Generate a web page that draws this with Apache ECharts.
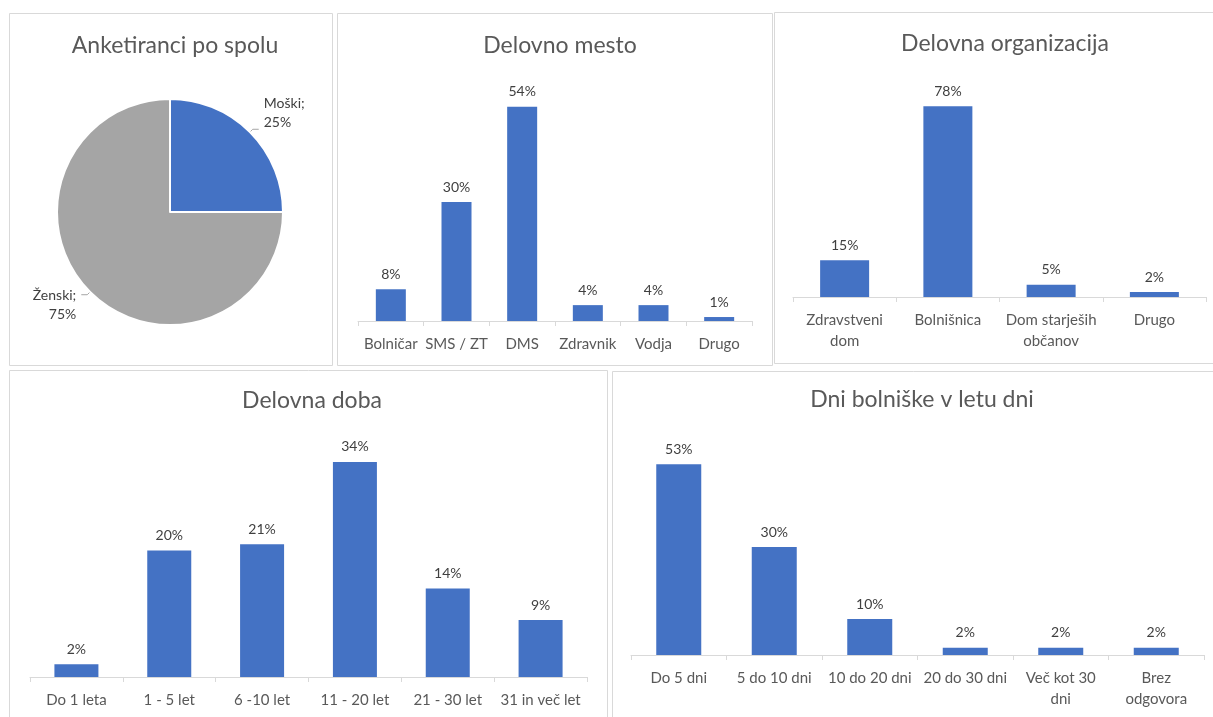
<!DOCTYPE html>
<html><head><meta charset="utf-8">
<script src="https://cdn.jsdelivr.net/npm/echarts@6/dist/echarts.min.js"></script>
<style>html,body{margin:0;padding:0;background:#fff}#c{width:1213px;height:717px}</style>
</head><body><div id="c"></div>
<script>
// ---- data ----
const spolNames = ['Moški', 'Ženski'];
const spolValues = [25, 75];

const mestoCats = ['Bolničar', 'SMS / ZT', 'DMS', 'Zdravnik', 'Vodja', 'Drugo'];
const mestoValues = [8, 30, 54, 4, 4, 1];

const orgCats = ['Zdravstveni\ndom', 'Bolnišnica', 'Dom starješih\nobčanov', 'Drugo'];
const orgValues = [15, 78, 5, 2];

const dobaCats = ['Do 1 leta', '1 - 5 let', '6 -10 let', '11 - 20 let', '21 - 30 let', '31 in več let'];
const dobaValues = [2, 20, 21, 34, 14, 9];

const bolCats = ['Do 5 dni', '5 do 10 dni', '10 do 20 dni', '20 do 30 dni', 'Več kot 30\ndni', 'Brez\nodgovora'];
const bolValues = [53, 30, 10, 2, 2, 2];

const titles = ['Anketiranci po spolu', 'Delovno mesto', 'Delovna organizacija', 'Delovna doba', 'Dni bolniške v letu dni'];

// ---- styling ----
const FONT = 'Lato, "Open Sans", sans-serif';
const BLUE = '#4472C4', GRAY = '#A5A5A5';
const grids = [
  {left: 358, top: 83, width: 394, height: 238},
  {left: 793, top: 77, width: 413, height: 220},
  {left: 30, top: 424, width: 557, height: 253},
  {left: 631, top: 439, width: 573, height: 216}
];
const maxes = [60, 90, 40, 60];
const catSets = [mestoCats, orgCats, dobaCats, bolCats];
const valSets = [mestoValues, orgValues, dobaValues, bolValues];
const barW = [30, 49, 44, 45];

const titlePos = [[170, 29], [555, 29], [1000, 27], [307, 384], [917, 383]];
const panels = [[9, 13, 323, 352], [337, 13, 435, 352], [774, 12, 445, 351], [9, 370, 598, 360], [612, 371, 610, 360]];

const option = {
  backgroundColor: '#fff',
  animation: false,
  textStyle: {fontFamily: FONT},
  title: titles.map((t, i) => ({
    text: t, left: titlePos[i][0], top: titlePos[i][1], textAlign: 'center',
    textStyle: {fontFamily: FONT, fontSize: 23, fontWeight: 'normal', color: '#595959'}
  })),
  graphic: panels.map(p => ({
    type: 'rect', shape: {x: p[0] + 0.5, y: p[1] + 0.5, width: p[2], height: p[3]},
    style: {fill: 'none', stroke: '#D9D9D9', lineWidth: 1}, silent: true, z: -1
  })),
  grid: grids,
  xAxis: catSets.map((c, i) => ({
    type: 'category', gridIndex: i, data: c,
    axisLine: {lineStyle: {color: '#D9D9D9'}},
    axisTick: {show: true, length: 5, lineStyle: {color: '#D9D9D9'}},
    axisLabel: {color: '#595959', fontFamily: FONT, fontSize: 15, interval: 0, margin: 13, lineHeight: 21}
  })),
  yAxis: maxes.map((m, i) => ({
    type: 'value', gridIndex: i, min: 0, max: m, show: false, splitLine: {show: false}
  })),
  series: [
    {
      type: 'pie', center: [170, 212], radius: 113, startAngle: 90, clockwise: true,
      data: spolNames.map((n, i) => ({name: n, value: spolValues[i], itemStyle: {color: i === 0 ? BLUE : GRAY}})),
      itemStyle: {borderColor: '#fff', borderWidth: 2},
      label: {show: true, position: 'outside', formatter: '{b};\n{c}%', color: '#404040', fontFamily: FONT, fontSize: 14, lineHeight: 19},
      labelLine: {show: true, length: 4, length2: 6, lineStyle: {color: '#A6A6A6'}},
      labelLayout: function (p) { return p.dataIndex === 0 ? {dy: -16} : {dy: 10}; }
    }
  ].concat(valSets.map((v, i) => ({
    type: 'bar', xAxisIndex: i, yAxisIndex: i, data: v, barWidth: barW[i],
    itemStyle: {color: BLUE},
    label: {show: true, position: 'top', distance: 8, formatter: '{c}%', color: '#404040', fontFamily: FONT, fontSize: 14}
  })))
};
const chart = echarts.init(document.getElementById('c'));
chart.setOption(option);
</script></body></html>
